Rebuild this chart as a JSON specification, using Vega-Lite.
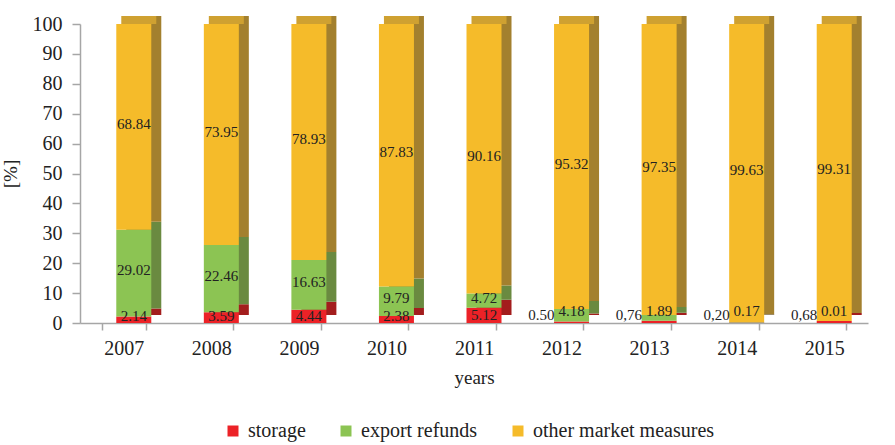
{
  "$schema": "https://vega.github.io/schema/vega-lite/v6.json",
  "width": 788,
  "height": 299,
  "autosize": {"type": "none"},
  "padding": {"left": 80, "top": 24, "right": 27, "bottom": 122},
  "background": "white",
  "config": {
    "view": {"stroke": null},
    "font": "Liberation Serif",
    "axis": {"grid": false, "domainColor": "#a6a6a6", "tickColor": "#a6a6a6", "domainWidth": 1.5, "tickWidth": 1.5, "labelFont": "Liberation Serif", "titleFont": "Liberation Serif", "labelColor": "#222", "titleColor": "#222", "labelFontSize": 20, "titleFontSize": 19, "titleFontWeight": "normal", "labelOverlap": false},
    "legend": {"labelFont": "Liberation Serif"},
    "text": {"font": "Liberation Serif"}
  },
  "data": {"values": [
    {"year": "2007", "series": "storage", "value": 2.14, "label": "2.14"},
    {"year": "2007", "series": "export refunds", "value": 29.02, "label": "29.02"},
    {"year": "2007", "series": "other market measures", "value": 68.84, "label": "68.84"},
    {"year": "2008", "series": "storage", "value": 3.59, "label": "3.59"},
    {"year": "2008", "series": "export refunds", "value": 22.46, "label": "22.46"},
    {"year": "2008", "series": "other market measures", "value": 73.95, "label": "73.95"},
    {"year": "2009", "series": "storage", "value": 4.44, "label": "4.44"},
    {"year": "2009", "series": "export refunds", "value": 16.63, "label": "16.63"},
    {"year": "2009", "series": "other market measures", "value": 78.93, "label": "78.93"},
    {"year": "2010", "series": "storage", "value": 2.38, "label": "2.38"},
    {"year": "2010", "series": "export refunds", "value": 9.79, "label": "9.79"},
    {"year": "2010", "series": "other market measures", "value": 87.83, "label": "87.83"},
    {"year": "2011", "series": "storage", "value": 5.12, "label": "5.12"},
    {"year": "2011", "series": "export refunds", "value": 4.72, "label": "4.72"},
    {"year": "2011", "series": "other market measures", "value": 90.16, "label": "90.16"},
    {"year": "2012", "series": "storage", "value": 0.50, "label": "0.50"},
    {"year": "2012", "series": "export refunds", "value": 4.18, "label": "4.18"},
    {"year": "2012", "series": "other market measures", "value": 95.32, "label": "95.32"},
    {"year": "2013", "series": "storage", "value": 0.76, "label": "0,76"},
    {"year": "2013", "series": "export refunds", "value": 1.89, "label": "1.89"},
    {"year": "2013", "series": "other market measures", "value": 97.35, "label": "97.35"},
    {"year": "2014", "series": "storage", "value": 0.20, "label": "0,20"},
    {"year": "2014", "series": "export refunds", "value": 0.17, "label": "0.17"},
    {"year": "2014", "series": "other market measures", "value": 99.63, "label": "99.63"},
    {"year": "2015", "series": "storage", "value": 0.68, "label": "0,68"},
    {"year": "2015", "series": "export refunds", "value": 0.01, "label": "0.01"},
    {"year": "2015", "series": "other market measures", "value": 99.31, "label": "99.31"}
  ]},
  "transform": [
    {"calculate": "indexof(['storage','export refunds','other market measures'], datum.series)", "as": "k"},
    {"stack": "value", "groupby": ["year"], "sort": [{"field": "k", "order": "ascending"}], "as": ["v0", "v1"]},
    {"calculate": "datum.series == 'storage' ? max((datum.v0 + datum.v1) / 2, 2.5) : max((datum.v0 + datum.v1) / 2, 3)", "as": "mid"}
  ],
  "encoding": {
    "x": {"field": "year", "type": "ordinal", "title": "years",
      "scale": {"paddingInner": 0.5, "paddingOuter": 0.25},
      "axis": {"labelAngle": 0, "tickBand": "extent", "tickSize": 7, "labelPadding": 8, "titlePadding": 10}},
    "y": {"field": "v1", "type": "quantitative", "title": "[%]",
      "scale": {"domain": [0, 100]},
      "axis": {"values": [0,10,20,30,40,50,60,70,80,90,100], "tickSize": 8, "labelPadding": 10, "titlePadding": 12}}
  },
  "layer": [
    {
      "mark": {"type": "bar", "size": 35, "xOffset": 20, "yOffset": -8, "y2Offset": -8},
      "encoding": {
        "y2": {"field": "v0"},
        "color": {"condition": [
          {"test": "datum.series == 'storage'", "value": "#a31d1d"},
          {"test": "datum.series == 'export refunds'", "value": "#6a8a40"}
        ], "value": "#a3802e"}
      }
    },
    {
      "transform": [{"filter": "datum.series == 'other market measures'"}],
      "mark": {"type": "bar", "size": 35, "xOffset": 15, "yOffset": -8, "y2Offset": 0, "color": "#cfa131"},
      "encoding": {
        "y2": {"field": "v1"}
      }
    },
    {
      "mark": {"type": "bar", "size": 35, "xOffset": 10},
      "encoding": {
        "y2": {"field": "v0"},
        "color": {"field": "series", "type": "nominal",
          "scale": {"domain": ["storage", "export refunds", "other market measures"], "range": ["#ec2227", "#8cc453", "#f5bb2a"]},
          "legend": {"title": null, "orient": "none", "legendX": 143, "legendY": 397, "direction": "horizontal", "symbolType": "square", "symbolSize": 121, "symbolStrokeWidth": 0, "labelFont": "Liberation Serif", "labelFontSize": 20, "labelColor": "#222", "labelLimit": 400, "labelOffset": 5, "columnPadding": 30}}
      }
    },
    {
      "transform": [{"filter": "datum.series == 'storage' && datum.value >= 1"}],
      "mark": {"type": "text", "dx": 10, "fontSize": 15, "color": "#222", "baseline": "middle"},
      "encoding": {
        "y": {"field": "mid", "type": "quantitative"},
        "text": {"field": "label"}
      }
    },
    {
      "transform": [{"filter": "datum.series != 'storage'"}],
      "mark": {"type": "text", "dx": 10, "dy": -3, "fontSize": 15, "color": "#222", "baseline": "middle"},
      "encoding": {
        "y": {"field": "mid", "type": "quantitative"},
        "text": {"field": "label"}
      }
    },
    {
      "transform": [{"filter": "datum.series == 'storage' && datum.value < 1"}],
      "mark": {"type": "text", "dx": -7, "dy": -1, "align": "right", "fontSize": 15, "color": "#222", "baseline": "middle"},
      "encoding": {
        "y": {"field": "mid", "type": "quantitative"},
        "text": {"field": "label"}
      }
    }
  ]
}
